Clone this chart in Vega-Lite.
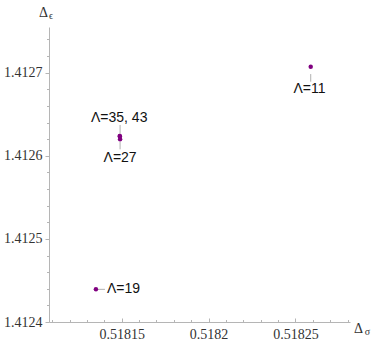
{
  "$schema": "https://vega.github.io/schema/vega-lite/v6.json",
  "autosize": "none",
  "width": 301,
  "height": 295,
  "padding": {"left": 49, "top": 27, "right": 24, "bottom": 28},
  "background": "white",
  "config": {
    "view": {"stroke": null},
    "axis": {
      "grid": false,
      "domainColor": "#b5b5b5",
      "tickColor": "#b5b5b5",
      "labelFont": "Liberation Serif",
      "labelFontSize": 14,
      "labelColor": "#333333",
      "titleFont": "Liberation Serif",
      "titleFontWeight": "normal",
      "titleColor": "#333333"
    }
  },
  "datasets": {
    "pts": [
      {"L": "11", "ds": 0.5182588, "de": 1.4127071},
      {"L": "35", "ds": 0.5181489, "de": 1.4126237},
      {"L": "43", "ds": 0.5181490, "de": 1.4126232},
      {"L": "27", "ds": 0.5181491, "de": 1.4126199},
      {"L": "19", "ds": 0.5181352, "de": 1.4124393}
    ],
    "callouts": [
      {"label": "Λ=11", "tx": 0.5182581, "ty": 1.4126805, "x1": 0.5182588, "y1": 1.4126983, "x2": 0.5182588, "y2": 1.4126891},
      {"label": "Λ=35, 43", "tx": 0.5181486, "ty": 1.4126450, "x1": 0.5181491, "y1": 1.4126370, "x2": 0.5181491, "y2": 1.4126262},
      {"label": "Λ=27", "tx": 0.5181491, "ty": 1.4125979, "x1": 0.5181491, "y1": 1.4126169, "x2": 0.5181491, "y2": 1.4126077},
      {"label": "Λ=19", "tx": 0.5181511, "ty": 1.4124397, "x1": 0.5181360, "y1": 1.4124393, "x2": 0.5181404, "y2": 1.4124393}
    ]
  },
  "resolve": {"axis": {"x": "independent", "y": "independent"}},
  "layer": [
    {
      "data": {"name": "pts"},
      "mark": {"type": "point", "filled": true, "opacity": 0, "size": 1},
      "encoding": {
        "x": {
          "field": "ds", "type": "quantitative",
          "scale": {"domain": [0.5181082, 0.5182814], "nice": false, "zero": false},
          "axis": {
            "orient": "bottom",
            "values": [0.51811, 0.51812, 0.51813, 0.51814, 0.51816, 0.51817, 0.51818, 0.51819, 0.51821, 0.51822, 0.51823, 0.51824, 0.51826, 0.51827, 0.51828],
            "labels": false, "domain": false, "tickSize": -2.5,
            "title": "σ", "titleFontSize": 10, "titleAngle": 0,
            "titleAlign": "center", "titleBaseline": "middle",
            "titleX": 318, "titleY": 9
          }
        },
        "y": {
          "field": "de", "type": "quantitative",
          "scale": {"domain": [1.4124, 1.4127549], "nice": false, "zero": false},
          "axis": {
            "orient": "left",
            "values": [1.41242, 1.41244, 1.41246, 1.41248, 1.41252, 1.41254, 1.41256, 1.41258, 1.41262, 1.41264, 1.41266, 1.41268, 1.41272, 1.41274],
            "labels": false, "domain": false, "tickSize": 2.5,
            "title": "ϵ", "titleFontSize": 10, "titleAngle": 0,
            "titleAlign": "center", "titleBaseline": "middle",
            "titleX": 1.5, "titleY": -11.5
          }
        }
      }
    },
    {
      "data": {"name": "callouts"},
      "mark": {"type": "rule", "color": "#b0b0b0", "strokeWidth": 1},
      "encoding": {
        "x": {"field": "x1", "type": "quantitative", "axis": null},
        "x2": {"field": "x2"},
        "y": {"field": "y1", "type": "quantitative", "axis": null},
        "y2": {"field": "y2"}
      }
    },
    {
      "data": {"name": "callouts"},
      "mark": {"type": "text", "font": "Liberation Sans", "fontSize": 14, "color": "#111111", "align": "center", "baseline": "middle"},
      "encoding": {
        "x": {"field": "tx", "type": "quantitative", "axis": null},
        "y": {"field": "ty", "type": "quantitative", "axis": null},
        "text": {"field": "label"}
      }
    },
    {
      "data": {"name": "pts"},
      "mark": {"type": "point", "filled": true, "color": "#800080", "opacity": 1, "size": 20},
      "encoding": {
        "x": {
          "field": "ds", "type": "quantitative",
          "axis": {
            "orient": "bottom",
            "values": [0.51815, 0.5182, 0.51825],
            "format": ".5~f",
            "tickSize": -4, "labelPadding": 9,
            "title": "Δ", "titleFontSize": 14, "titleAngle": 0,
            "titleAlign": "center", "titleBaseline": "middle",
            "titleX": 309, "titleY": 6
          }
        },
        "y": {
          "field": "de", "type": "quantitative",
          "axis": {
            "orient": "left",
            "values": [1.4124, 1.4125, 1.4126, 1.4127],
            "format": ".4f",
            "tickSize": 4, "labelPadding": 3,
            "title": "Δ", "titleFontSize": 14, "titleAngle": 0,
            "titleAlign": "center", "titleBaseline": "middle",
            "titleX": -6, "titleY": -14.3
          }
        }
      }
    }
  ]
}
